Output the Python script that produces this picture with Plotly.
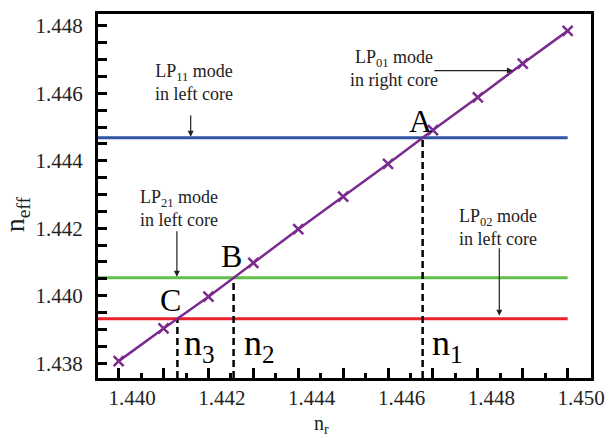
import numpy as np
import plotly.graph_objects as go

# ---- data ----
nr = [1.4397, 1.4407, 1.4417, 1.4427, 1.4437, 1.4447, 1.4457, 1.4467, 1.4477, 1.4487, 1.4497]
neff_right = [1.43806, 1.43903, 1.43997, 1.44097, 1.44197, 1.44294, 1.44391, 1.44491, 1.44588, 1.44688, 1.44785]

mode_names = ["LP11", "LP21", "LP02"]
mode_neff = [1.44468, 1.44053, 1.43932]
mode_colors = ["#2f55a4", "#62bf4c", "#e8232c"]

point_labels = ["A", "B", "C"]
n_labels = ["n<sub>1</sub>", "n<sub>2</sub>", "n<sub>3</sub>"]

x_tick_vals = [1.440, 1.442, 1.444, 1.446, 1.448, 1.450]
x_tick_text = ["1.440", "1.442", "1.444", "1.446", "1.448", "1.450"]
x_mark_major = [1.4397, 1.4407, 1.4417, 1.4427, 1.4437, 1.4447, 1.4457, 1.4467, 1.4477, 1.4487, 1.4497]
x_mark_minor = [1.4402, 1.4412, 1.4422, 1.4432, 1.4442, 1.4452, 1.4462, 1.4472, 1.4482, 1.4492]
y_tick_vals = [1.438, 1.440, 1.442, 1.444, 1.446, 1.448]
y_tick_text = ["1.438", "1.440", "1.442", "1.444", "1.446", "1.448"]

x_range = [1.43924, 1.45022]
y_range = [1.43756, 1.44835]

# crossing points of the right-core line with the left-core modes
cross_x = list(np.interp(mode_neff, neff_right, nr))

FONT = "Liberation Serif, Times New Roman, Times, serif"
TXT = "#222222"

fig = go.Figure()

# horizontal mode lines
for name, lvl, col in zip(mode_names, mode_neff, mode_colors):
    fig.add_trace(go.Scatter(x=[x_range[0], nr[-1]], y=[lvl, lvl], mode="lines",
                             line=dict(color=col, width=3), name=name, showlegend=False,
                             hoverinfo="skip"))

# dashed drop lines
for cx, lvl in zip(cross_x, mode_neff):
    fig.add_trace(go.Scatter(x=[cx, cx], y=[y_range[0], lvl], mode="lines",
                             line=dict(color="black", width=2.5, dash="7px,4px"),
                             showlegend=False, hoverinfo="skip"))

# LP01 right core line
fig.add_trace(go.Scatter(x=nr, y=neff_right, mode="lines+markers",
                         line=dict(color="#7b2a8e", width=2.5),
                         marker=dict(symbol="x-thin", size=10,
                                     line=dict(color="#7b2a8e", width=2.5)),
                         showlegend=False))

# dummy trace for label axis
fig.add_trace(go.Scatter(x=[None], y=[None], xaxis="x2", yaxis="y", showlegend=False,
                         hoverinfo="skip"))

ann = []
# point letters
shifts = [(11, -3), (10, 2), (6, -1)]
for lab, cx, lvl, (sx, sy) in zip(point_labels, cross_x, mode_neff, shifts):
    ann.append(dict(x=cx, y=lvl, xref="x", yref="y", text=lab, showarrow=False,
                    xanchor="right", yanchor="bottom", xshift=sx, yshift=sy,
                    font=dict(family=FONT, size=32, color="black")))
# n labels
for lab, cx, sx in zip(n_labels, cross_x, [7, 8, 5]):
    ann.append(dict(x=cx, y=0.09, xref="x", yref="paper", text=lab, showarrow=False,
                    xanchor="left", yanchor="middle", xshift=sx,
                    font=dict(family=FONT, size=36, color="black")))

# mode text blocks
txt_font = dict(family=FONT, size=18, color=TXT)
C = dict(xref="paper", yref="paper", showarrow=False, xanchor="center", yanchor="middle",
         font=txt_font)
ann += [
    dict(x=0.195, y=0.8115, text="LP<sub>11</sub> mode<br>in left core", **C),
    dict(x=0.1644, y=0.465, text="LP<sub>21</sub> mode<br>in left core", **C),
    dict(x=0.600, y=0.850, text="LP<sub>01</sub> mode<br>in right core", **C),
    dict(x=0.812, y=0.414, text="LP<sub>02</sub> mode<br>in left core", **C),
]
arrow = dict(showarrow=True, arrowhead=2, arrowsize=1, arrowwidth=1.2, arrowcolor="#222222", text="")
ann += [
    dict(x=0.188, y=mode_neff[0], xref="paper", yref="y", ax=0, ay=-24, standoff=1, **arrow),
    dict(x=0.160, y=mode_neff[1], xref="paper", yref="y", ax=0, ay=-48, standoff=1, **arrow),
    dict(x=0.814, y=mode_neff[2], xref="paper", yref="y", ax=0, ay=-72, standoff=3, **arrow),
    dict(x=0.8416, y=0.8447, xref="paper", yref="paper", ax=-80, ay=0, standoff=0, **arrow),
]
# axis titles
ann += [
    dict(x=-0.166, y=0.45, xref="paper", yref="paper", text="n<sub>eff</sub>", textangle=-90,
         showarrow=False, xanchor="center", yanchor="middle",
         font=dict(family=FONT, size=28, color=TXT)),
    dict(x=0.4535, y=-0.129, xref="paper", yref="paper", text="n<sub>r</sub>",
         showarrow=False, xanchor="center", yanchor="middle",
         font=dict(family=FONT, size=20, color=TXT)),
]

fig.update_layout(
    width=616, height=438,
    margin=dict(l=98, r=13, t=11, b=60),
    paper_bgcolor="white", plot_bgcolor="white",
    annotations=ann,
    xaxis=dict(range=x_range, showgrid=False, zeroline=False, showline=True, mirror=True,
               linecolor="black", linewidth=3, ticks="inside", tickmode="array",
               tickvals=x_mark_major, ticklen=10, tickwidth=2.5, tickcolor="black",
               showticklabels=False,
               minor=dict(tickmode="array", tickvals=x_mark_minor, ticks="inside",
                          ticklen=5, tickwidth=2.5, tickcolor="black")),
    xaxis2=dict(range=x_range, overlaying="x", anchor="y", side="bottom", showgrid=False,
                zeroline=False, showline=False, ticks="", tickmode="array",
                tickvals=x_tick_vals, ticktext=x_tick_text, ticklabelstandoff=5,
                tickfont=dict(family=FONT, size=21, color=TXT)),
    yaxis=dict(range=y_range, showgrid=False, zeroline=False, showline=True, mirror=True,
               linecolor="black", linewidth=3, ticks="inside", tickmode="array",
               tickvals=y_tick_vals, ticktext=y_tick_text, ticklen=9, tickwidth=2.5,
               tickcolor="black", ticklabelstandoff=8,
               tickfont=dict(family=FONT, size=21, color=TXT),
               minor=dict(tickmode="linear", tick0=1.438, dtick=0.0005, ticks="inside",
                          ticklen=9, tickwidth=2.5, tickcolor="black")),
)

fig.write_html("out.html")
